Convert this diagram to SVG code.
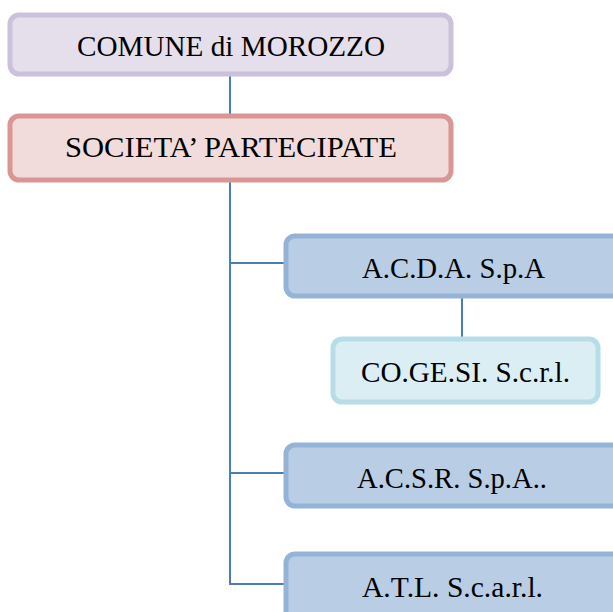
<svg xmlns="http://www.w3.org/2000/svg" width="613" height="612" viewBox="0 0 613 612">
<style>
.t{font-family:"Liberation Serif","Times New Roman",serif;font-size:29.5px;fill:#000}
.b{stroke-width:5}
.c{stroke:#4a7ebb;stroke-width:2;fill:none}
</style>
<rect width="613" height="612" fill="#fff"/>
<g id="connectors">
<line class="c" x1="230" y1="76" x2="230" y2="114"/>
<polyline class="c" points="230,182 230,584 287,584"/>
<line class="c" x1="230" y1="263" x2="287" y2="263"/>
<line class="c" x1="230" y1="473" x2="287" y2="473"/>
<line class="c" x1="462" y1="297" x2="462" y2="338"/>
</g>
<g id="comune">
<rect class="b" x="10" y="15" width="441" height="59" rx="9" fill="#e5dfec" stroke="#ccc1da"/>
<text class="t" x="77" y="56" textLength="308" lengthAdjust="spacingAndGlyphs">COMUNE di MOROZZO</text>
</g>
<g id="societa">
<rect class="b" x="10" y="116" width="441" height="64" rx="9" fill="#f2dcdb" stroke="#d99694"/>
<text class="t" x="65" y="157" textLength="332" lengthAdjust="spacingAndGlyphs">SOCIETA’ PARTECIPATE</text>
</g>
<g id="acda">
<rect class="b" x="286" y="236" width="340" height="60" rx="9" fill="#b9cde5" stroke="#95b3d7"/>
<text class="t" x="362" y="278" textLength="183" lengthAdjust="spacingAndGlyphs">A.C.D.A. S.p.A</text>
</g>
<g id="cogesi">
<rect class="b" x="333" y="339" width="265" height="63" rx="9" fill="#dbeef4" stroke="#b7dde8"/>
<text class="t" x="361" y="382" textLength="209" lengthAdjust="spacingAndGlyphs">CO.GE.SI. S.c.r.l.</text>
</g>
<g id="acsr">
<rect class="b" x="286" y="445" width="340" height="61" rx="9" fill="#b9cde5" stroke="#95b3d7"/>
<text class="t" x="357" y="488" textLength="190" lengthAdjust="spacingAndGlyphs">A.C.S.R. S.p.A..</text>
</g>
<g id="atl">
<rect class="b" x="286" y="554" width="340" height="70" rx="9" fill="#b9cde5" stroke="#95b3d7"/>
<text class="t" x="362" y="597" textLength="181" lengthAdjust="spacingAndGlyphs">A.T.L. S.c.a.r.l.</text>
</g>
</svg>
